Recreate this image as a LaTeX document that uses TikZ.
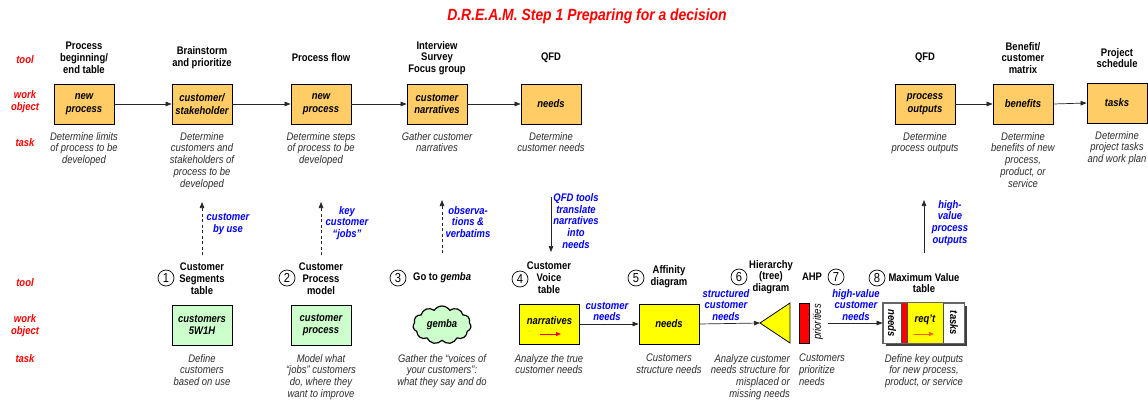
\documentclass[tikz,border=0pt]{standalone}
\usepackage{fontspec}
\setmainfont{Liberation Sans}[FakeStretch=0.86]
\usetikzlibrary{arrows.meta,shapes.symbols,shapes.geometric}
\definecolor{boxor}{RGB}{255,204,102}
\definecolor{boxgr}{RGB}{204,255,204}
\definecolor{boxye}{RGB}{255,255,0}
\definecolor{lblue}{RGB}{0,0,255}
\definecolor{lred}{RGB}{255,0,0}
\definecolor{tgray}{RGB}{45,45,45}
\definecolor{reqor}{RGB}{255,90,0}
\begin{document}
\begin{tikzpicture}[x=1pt,y=-1pt,
  tl/.style={font=\bfseries\fontsize{11}{11.8}\selectfont,align=center,inner sep=0pt},
  rl/.style={font=\bfseries\itshape\fontsize{11}{11.8}\selectfont,align=center,inner sep=0pt,text=lred},
  bl/.style={font=\bfseries\itshape\fontsize{11}{11.8}\selectfont,align=center,inner sep=0pt,text=lblue},
  tk/.style={font=\itshape\fontsize{11}{11.8}\selectfont,align=center,inner sep=0pt,text=tgray,anchor=north},
  ob/.style={draw=black,line width=0.8pt,minimum width=60pt,minimum height=40pt,inner sep=0pt,align=center,font=\bfseries\itshape\fontsize{11}{12.8}\selectfont},
  cn/.style={circle,draw=black,line width=0.7pt,minimum size=16pt,inner sep=0pt,font=\fontsize{13}{13}\selectfont},
  arr/.style={-{Triangle[length=6pt,width=4.5pt]},line width=0.7pt,black!85},
  darr/.style={arr,dash pattern=on 3pt off 2.5pt},
  rarr/.style={-{Triangle[length=5pt,width=4pt]},line width=1pt},
  rot/.style={font=\bfseries\itshape\fontsize{11}{11}\selectfont,inner sep=0pt}
]
\useasboundingbox (0,0) rectangle (1148,404);
\fill[white] (0,0) rectangle (1148,404);

% title
\node[font=\bfseries\itshape\fontsize{16.2}{18}\selectfont,text=lred] (title) at (587,16) {D.R.E.A.M. Step 1 Preparing for a decision};

% row labels
\node[rl] (t1) at (25,60) {tool};
\node[rl] (w1) at (25,102) {work\\object};
\node[rl] (k1) at (25,143) {task};
\node[rl] (t2) at (25,283) {tool};
\node[rl] (w2) at (25,326) {work\\object};
\node[rl] (k2) at (25,359) {task};

% top tools
\node[tl] (ta1) at (84,58) {Process\\beginning/\\end table};
\node[tl] (ta2) at (202,58) {Brainstorm\\and prioritize};
\node[tl] (ta3) at (321,58) {Process flow};
\node[tl] (ta4) at (437,58) {Interview\\Survey\\Focus group};
\node[tl] (ta5) at (551,58) {QFD};
\node[tl] (ta6) at (925,58) {QFD};
\node[tl] (ta7) at (1023,58) {Benefit/\\customer\\matrix};
\node[tl] (ta8) at (1117,58) {Project\\schedule};

% top work objects
\node[ob,fill=boxor] (a1) at (84,104) {new\\process};
\node[ob,fill=boxor] (a2) at (202,104) {customer/\\stakeholder};
\node[ob,fill=boxor] (a3) at (321,104) {new\\process};
\node[ob,fill=boxor] (a4) at (437,104) {customer\\narratives};
\node[ob,fill=boxor] (a5) at (551,104) {needs};
\node[ob,fill=boxor] (a6) at (925,104) {process\\outputs};
\node[ob,fill=boxor] (a7) at (1023,104) {benefits};
\node[ob,fill=boxor] (a8) at (1117,103) {tasks};

\draw[arr] (a1) -- (a2);
\draw[arr] (a2) -- (a3);
\draw[arr] (a3) -- (a4);
\draw[arr] (a4) -- (a5);
\draw[arr] (a6) -- (a7);
\draw[arr] (a7.east) -- (a8.west);

% top tasks
\node[tk] (ka1) at (84,132) {Determine limits\\of process to be\\developed};
\node[tk] (ka2) at (202,132) {Determine\\customers and\\stakeholders of\\process to be\\developed};
\node[tk] (ka3) at (321,132) {Determine steps\\of process to be\\developed};
\node[tk] (ka4) at (437,132) {Gather customer\\narratives};
\node[tk] (ka5) at (551,132) {Determine\\customer needs};
\node[tk] (ka6) at (925,132) {Determine\\process outputs};
\node[tk] (ka7) at (1023,132) {Determine\\benefits of new\\process,\\product, or\\service};
\node[tk] (ka8) at (1117,131) {Determine\\project tasks\\and work plan};

% vertical arrows
\coordinate (d1s) at (202,255); \coordinate (d1e) at (202,202);
\coordinate (d2s) at (321,255); \coordinate (d2e) at (321,202);
\coordinate (d3s) at (442,253); \coordinate (d3e) at (442,200);
\coordinate (q1s) at (551,197); \coordinate (q1e) at (551,252);
\coordinate (h1s) at (924,253); \coordinate (h1e) at (924,200);
\draw[darr] (d1s) -- (d1e);
\draw[darr] (d2s) -- (d2e);
\draw[darr] (d3s) -- (d3e);
\draw[arr] (q1s) -- (q1e);
\draw[arr] (h1s) -- (h1e);
\node[bl] (b1) at (228,224) {customer\\by use};
\node[bl] (b2) at (347,223) {key\\customer\\“jobs”};
\node[bl] (b3) at (468,222) {observa-\\tions \&\\verbatims};
\node[bl] (b4) at (576,221) {QFD tools\\translate\\narratives\\into\\needs};
\node[bl] (b5) at (950,223) {high-\\value\\process\\outputs};

% lower tools
\node[cn] (c1) at (166,278) {1};
\node[tl] (l1) at (202,279) {Customer\\Segments\\table};
\node[cn] (c2) at (287,278) {2};
\node[tl] (l2) at (321,279) {Customer\\Process\\model};
\node[cn] (c3) at (398,278) {3};
\node[tl,anchor=west] (l3) at (413,278) {Go to \textit{gemba}};
\node[cn] (c4) at (520,279) {4};
\node[tl] (l4) at (549,278) {Customer\\Voice\\table};
\node[cn] (c5) at (636,278) {5};
\node[tl] (l5) at (669,277) {Affinity\\diagram};
\node[cn] (c6) at (739,277) {6};
\node[tl] (l6) at (771,277) {Hierarchy\\(tree)\\diagram};
\node[tl] (l7) at (812,277) {AHP};
\node[cn] (c7) at (836,277) {7};
\node[cn] (c8) at (877,278) {8};
\node[tl] (l8) at (924,283) {Maximum Value\\table};

% lower work objects
\node[ob,fill=boxgr] (g1) at (202,325) {customers\\5W1H};
\node[ob,fill=boxgr] (g2) at (321,325) {customer\\process};
\node[cloud,cloud puffs=11,cloud puff arc=115,aspect=1.6,draw=black,line width=1.2pt,fill=boxgr,minimum width=58pt,minimum height=38pt,inner sep=0pt,font=\bfseries\itshape\fontsize{11}{12}\selectfont] (gem) at (442,325) {gemba};
\node[ob,fill=boxye] (nar) at (549.5,324) {};
\node[rot] (nart) at (549.5,321) {narratives};
\draw[rarr,lred] (540,334) -- (561,334);
\node[ob,fill=boxye] (nd) at (669,324) {needs};
\coordinate (trit) at (760,323);
\draw[fill=boxye,draw=black,line width=0.8pt] (trit) -- (790,303) -- (790,343) -- cycle;
\node[draw=black,line width=0.8pt,fill=lred,minimum width=10pt,minimum height=40pt,inner sep=0pt] (prio) at (804,323) {};
\node[font=\itshape\fontsize{11}{11}\selectfont,inner sep=0pt,rotate=90] (priot) at (818,322) {priorities};
\coordinate (hvs) at (828,323);

% maximum value table
\fill[black!75] (886,306) rectangle (967,346);
\node[draw=black!60,fill=white,line width=0.8pt,minimum width=81pt,minimum height=40pt,inner sep=0pt] (mvt) at (923.5,323) {};
\fill[lred] (901,303) rectangle (907,343);
\fill[boxye] (907,303) rectangle (943,343);
\draw[black!70,line width=0.8pt] (901,303) -- (901,343) (907,303) -- (907,343) (943,303) -- (943,343);
\draw[black!60,line width=0.8pt] (mvt.south west) rectangle (mvt.north east);
\node[rot,rotate=-90] (mvn) at (892,323) {needs};
\node[rot,rotate=-90] (mvk) at (954,323) {tasks};
\node[rot] (mvr) at (925,320) {req't};
\draw[rarr,reqor] (914,334) -- (934,334);

% lower connectors
\draw[arr] (nar.east) -- (nd.west);
\draw[arr] (nd.east) -- (trit);
\draw[arr] (hvs) -- (mvt.west);
\node[bl] (e1) at (607,311.5) {customer\\needs};
\node[bl] (e2) at (726,305) {structured\\customer\\needs};
\node[bl] (e3) at (856,305) {high-value\\customer\\needs};

% lower tasks
\node[tk] (kb1) at (202,354) {Define\\customers\\based on use};
\node[tk] (kb2) at (321,354) {Model what\\“jobs” customers\\do, where they\\want to improve};
\node[tk] (kb3) at (442,354) {Gather the “voices of\\your customers”:\\what they say and do};
\node[tk] (kb4) at (549,354) {Analyze the true\\customer needs};
\node[tk] (kb5) at (669,354) {Customers\\structure needs};
\node[tk,anchor=north east,align=right] (kb6) at (790,354) {Analyze customer\\needs structure for\\misplaced or\\missing needs};
\node[tk,anchor=north west,align=left] (kb7) at (799,354) {Customers\\prioritize\\needs};
\node[tk] (kb8) at (924,354) {Define key outputs\\for new process,\\product, or service};
\end{tikzpicture}
\end{document}
